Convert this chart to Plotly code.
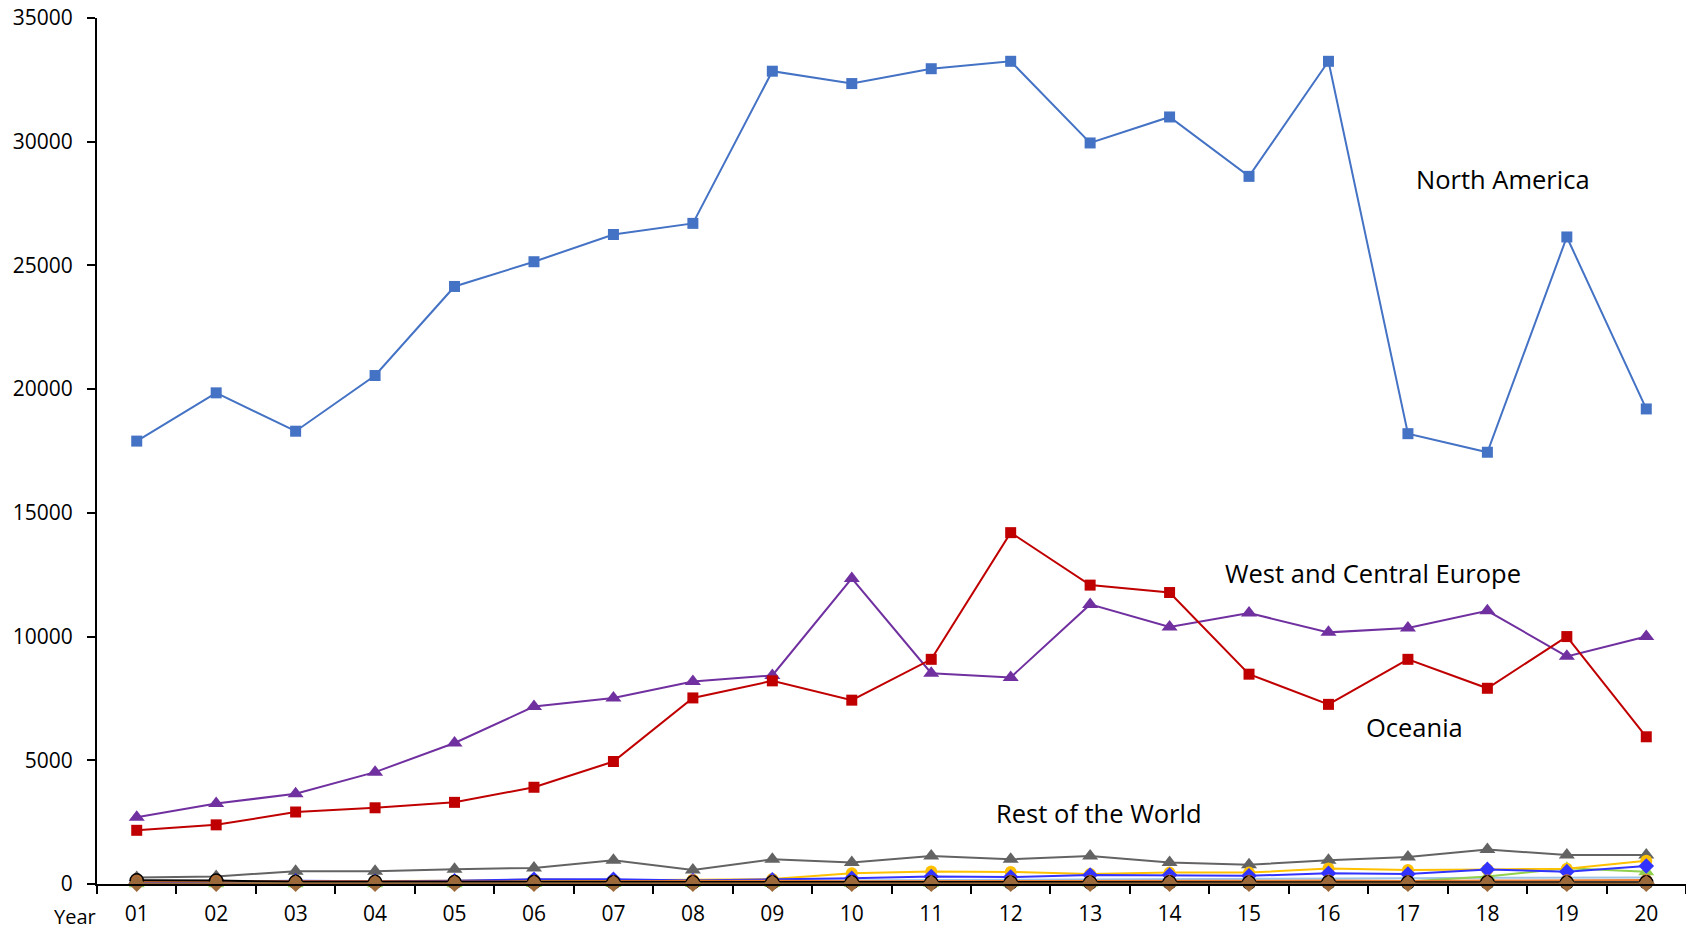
import plotly.graph_objects as go

years = ["01", "02", "03", "04", "05", "06", "07", "08", "09", "10",
         "11", "12", "13", "14", "15", "16", "17", "18", "19", "20"]

north_america = [17900, 19850, 18300, 20550, 24150, 25150, 26250, 26700, 32850, 32350,
                 32950, 33250, 29950, 31000, 28600, 33250, 18200, 17450, 26150, 19200]
west_central_europe = [2700, 3250, 3650, 4520, 5700, 7170, 7520, 8180, 8430, 12350,
                       8520, 8350, 11300, 10390, 10950, 10170, 10350, 11040, 9200, 10000]
oceania = [2170, 2390, 2910, 3080, 3300, 3910, 4950, 7520, 8210, 7430,
           9080, 14200, 12080, 11780, 8480, 7260, 9080, 7910, 10000, 5950]

rest_gray = [260, 300, 520, 520, 600, 650, 960, 565, 1000, 870,
             1130, 1000, 1130, 870, 780, 960, 1090, 1390, 1170, 1170]
rest_yellow = [90, 100, 110, 110, 130, 180, 150, 170, 200, 430,
               510, 490, 400, 460, 460, 630, 570, 590, 620, 940]
rest_blue = [60, 80, 130, 110, 130, 190, 190, 140, 170, 230,
             300, 280, 360, 360, 330, 430, 400, 590, 500, 730]
rest_lightblue = [40, 50, 60, 70, 80, 90, 100, 110, 120, 150,
                  170, 180, 190, 200, 190, 220, 230, 250, 240, 260]
rest_green = [10, 10, 10, 10, 10, 20, 20, 20, 20, 30,
              30, 40, 40, 50, 60, 80, 100, 300, 640, 500]
rest_orange = [110, 120, 100, 110, 100, 110, 110, 150, 130, 110,
               120, 130, 130, 140, 130, 140, 120, 140, 150, 160]
rest_black = [150, 140, 90, 90, 80, 80, 70, 70, 70, 70,
              60, 60, 60, 70, 60, 70, 60, 70, 60, 70]
rest_brown = [20, 20, 20, 20, 20, 20, 20, 20, 20, 20,
              20, 20, 20, 20, 20, 20, 20, 20, 20, 20]

FONT = "Open Sans"

fig = go.Figure()

def add(y, color, symbol, size, mcolor=None, mline=None, width=2):
    fig.add_trace(go.Scatter(
        x=years, y=y, mode="lines+markers",
        line=dict(color=color, width=width),
        marker=dict(symbol=symbol, size=size, color=mcolor or color,
                    line=dict(color=mline or (mcolor or color), width=1.5 if mline else 0)),
        cliponaxis=False, showlegend=False, hoverinfo="x+y"))

# rest of the world
add(rest_lightblue, "#9DC3E6", "circle", 9)
add(rest_gray, "#636363", "triangle-up", 14)
add(rest_green, "#92D050", "triangle-up", 14)
add(rest_yellow, "#FFC000", "circle", 12)
add(rest_blue, "#3333FF", "diamond", 12)
add(rest_orange, "#ED7D31", "circle", 12)
add(rest_black, "#000000", "circle", 13, mcolor="#B06A30", mline="#000000")
add(rest_brown, "#9C6A3A", "diamond", 13)

# main regions
add(west_central_europe, "#7030A0", "triangle-up", 14)
add(oceania, "#C00000", "square", 11)
add(north_america, "#4472C4", "square", 11)

annotations = [
    dict(text="North America", x=17.2, y=28480),
    dict(text="West and Central Europe", x=15.56, y=12560),
    dict(text="Oceania", x=16.08, y=6340),
    dict(text="Rest of the World", x=12.11, y=2860),
]
for a in annotations:
    fig.add_annotation(text=a["text"], x=a["x"], y=a["y"], xref="x", yref="y",
                       showarrow=False, font=dict(family=FONT, size=25.5, color="#000000"),
                       xanchor="center", yanchor="middle")
fig.add_annotation(text="Year", x=-0.0136, y=-0.0547, xref="paper", yref="paper",
                   showarrow=False, font=dict(family=FONT, size=20, color="#000000"),
                   xanchor="center", yanchor="bottom", borderpad=0)

fig.update_layout(
    width=1686, height=931,
    margin=dict(l=97, r=0, t=18, b=47),
    plot_bgcolor="white", paper_bgcolor="white",
    font=dict(family=FONT, size=21, color="#000000"),
    xaxis=dict(type="category", range=[-0.5, 19.5], showline=True, linecolor="#000000",
               linewidth=2, ticks="outside", tickson="boundaries", ticklen=8,
               tickcolor="#000000", tickwidth=2, showgrid=False, zeroline=False,
               ticklabelstandoff=10,
               tickfont=dict(family=FONT, size=21)),
    yaxis=dict(range=[0, 35000], dtick=5000, tickformat="d", showline=True,
               linecolor="#000000", linewidth=2, ticks="outside", ticklen=8,
               tickcolor="#000000", tickwidth=2, showgrid=False, zeroline=False,
               ticklabelstandoff=10, ticklabeloverflow="allow",
               tickfont=dict(family=FONT, size=21)),
)

fig.write_html("out.html", config={"displayModeBar": False},
               post_script="document.body.style.margin='0';")
